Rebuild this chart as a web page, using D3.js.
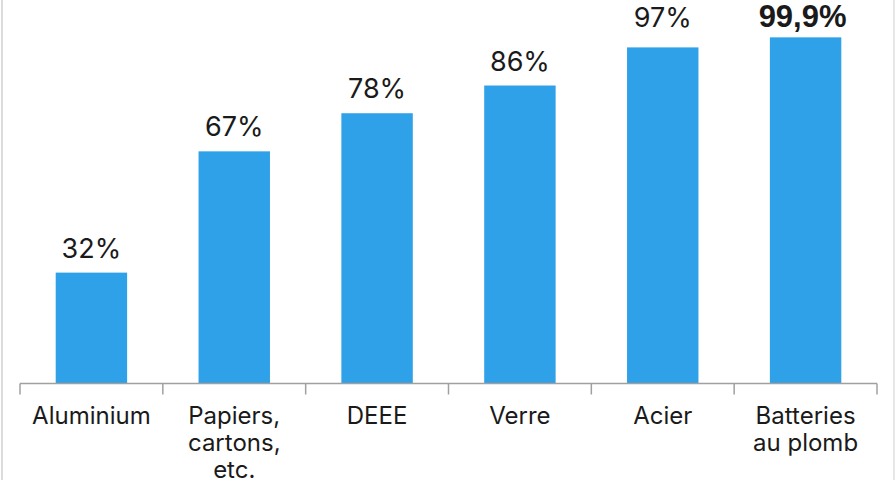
<!DOCTYPE html>
<html lang="fr">
<head>
    <meta charset="UTF-8">
    <title>Taux de recyclage</title>
    <script src="https://d3js.org/d3.v7.min.js"></script>
    <style>
        body {
            margin: 0;
            background: #fff;
        }

        svg {
            display: block;
        }

        .value {
            font-family: 'Inter', sans-serif;
            font-size: 27px;
            fill: #1a1a1a;
        }

        .cat {
            font-family: 'Inter', sans-serif;
            font-size: 24px;
            fill: #1a1a1a;
        }
    </style>
</head>
<body>
    <svg width="895" height="483" id="chart"></svg>

    <script>
        // data
        const categories = ["Aluminium", "Papiers, cartons, etc.", "DEEE", "Verre", "Acier", "Batteries au plomb"];
        const catLines = [["Aluminium"], ["Papiers,", "cartons,", "etc."], ["DEEE"], ["Verre"], ["Acier"], ["Batteries", "au plomb"]];
        const values = [32, 67, 78, 86, 97, 99.9];
        const valueLabels = ["32%", "67%", "78%", "86%", "97%", "99,9%"];
        const boldLabel = [false, false, false, false, false, true];

        const svg = d3.select("#chart");

        const x = d3.scaleBand().domain(categories).range([20, 877]).padding(0);
        const y = d3.scaleLinear().domain([0, 100]).range([383.5, 37]);

        // frame lines left and right
        svg.append("line").attr("x1", 2).attr("x2", 2).attr("y1", 0).attr("y2", 480)
            .style("stroke", "#dcdcdc").style("stroke-width", 2);
        svg.append("line").attr("x1", 894).attr("x2", 894).attr("y1", 0).attr("y2", 480)
            .style("stroke", "#e6e6e6").style("stroke-width", 2);

        const barW = x.bandwidth() * 0.5;

        // bars
        svg.selectAll(".bar").data(values).enter().append("rect")
            .attr("class", "bar")
            .attr("x", (d, i) => x(categories[i]) + (x.bandwidth() - barW) / 2)
            .attr("width", barW)
            .attr("y", d => y(d))
            .attr("height", d => y(0) - y(d))
            .style("fill", "#2ea1e8");

        // value labels (top two sit lower, as in the source)
        const gap = [15, 15, 15, 15, 20, 10];
        svg.selectAll(".value").data(values).enter().append("text")
            .attr("class", "value")
            .attr("x", (d, i) => x(categories[i]) + x.bandwidth() / 2 - (boldLabel[i] ? 3 : 0))
            .attr("y", (d, i) => y(d) - gap[i])
            .attr("text-anchor", "middle")
            .style("font-weight", (d, i) => boldLabel[i] ? "bold" : "normal")
            .style("font-family", (d, i) => boldLabel[i] ? "'Liberation Sans', Arial, sans-serif" : null)
            .style("font-size", (d, i) => boldLabel[i] ? "31px" : null)
            .text((d, i) => valueLabels[i]);

        // axis line + ticks at band edges
        const axis = svg.append("g");
        axis.append("line")
            .attr("x1", x.range()[0]).attr("x2", x.range()[1])
            .attr("y1", y(0)).attr("y2", y(0))
            .style("stroke", "#a0a0a0").style("stroke-width", 1.5);
        const edges = categories.map(c => x(c)).concat([x.range()[1]]);
        axis.selectAll(".tick").data(edges).enter().append("line")
            .attr("x1", d => d).attr("x2", d => d)
            .attr("y1", y(0)).attr("y2", y(0) + 11)
            .style("stroke", "#a0a0a0").style("stroke-width", 1.5);

        // category labels
        const cats = svg.selectAll(".cat").data(catLines).enter().append("text")
            .attr("class", "cat")
            .attr("x", (d, i) => x(categories[i]) + x.bandwidth() / 2)
            .attr("y", y(0) + 40.5)
            .attr("text-anchor", "middle");
        cats.selectAll("tspan").data(d => d).enter().append("tspan")
            .attr("x", function () { return this.parentNode.getAttribute("x"); })
            .attr("dy", (d, i) => i === 0 ? 0 : 27)
            .text(d => d);
    </script>
</body>
</html>
